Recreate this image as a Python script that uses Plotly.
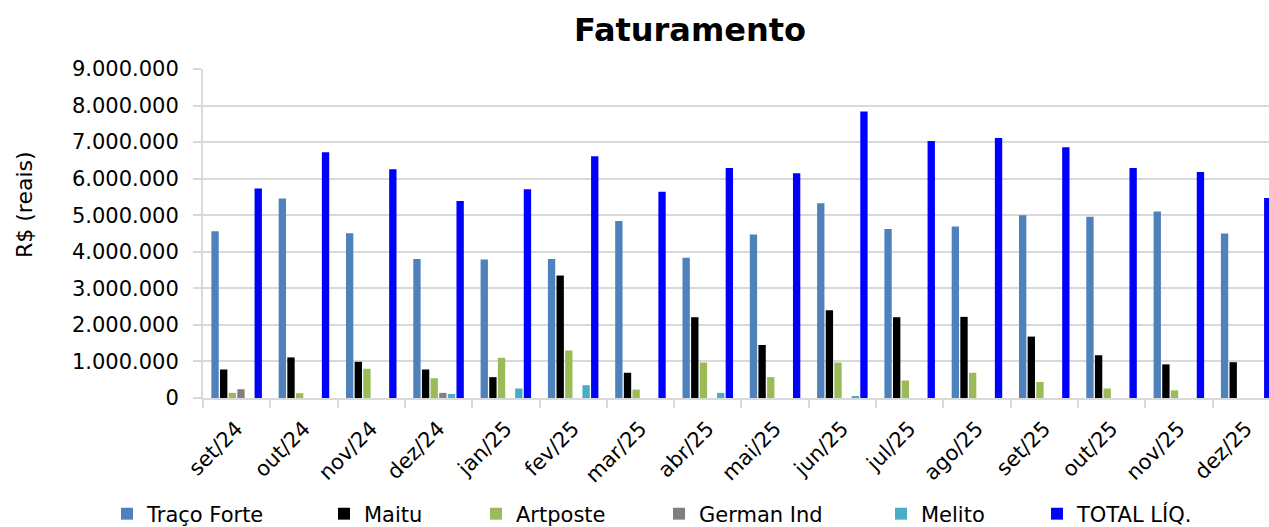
import plotly.graph_objects as go

months = ["set/24", "out/24", "nov/24", "dez/24", "jan/25", "fev/25", "mar/25", "abr/25",
          "mai/25", "jun/25", "jul/25", "ago/25", "set/25", "out/25", "nov/25", "dez/25"]

traco_forte = [4560000, 5460000, 4510000, 3800000, 3790000, 3800000, 4840000, 3840000,
               4470000, 5330000, 4620000, 4690000, 5000000, 4960000, 5100000, 4500000]
maitu = [780000, 1110000, 990000, 780000, 570000, 3350000, 690000, 2210000,
         1450000, 2400000, 2210000, 2220000, 1680000, 1170000, 920000, 980000]
artposte = [140000, 130000, 800000, 540000, 1100000, 1300000, 230000, 970000,
            570000, 970000, 480000, 690000, 440000, 260000, 210000, 0]
german_ind = [240000, 0, 0, 140000, 0, 0, 0, 0, 0, 0, 0, 0, 0, 0, 0, 0]
melito = [0, 0, 0, 110000, 260000, 350000, 0, 140000, 0, 50000, 0, 0, 0, 0, 0, 0]
total_liq = [5730000, 6720000, 6260000, 5390000, 5710000, 6610000, 5640000, 6290000,
             6150000, 7840000, 7030000, 7110000, 6860000, 6290000, 6180000, 5470000]

series = [
    ("Traço Forte", traco_forte, "#4F81BD"),
    ("Maitu", maitu, "#000000"),
    ("Artposte", artposte, "#9BBB59"),
    ("German Ind", german_ind, "#808080"),
    ("Melito", melito, "#4BACC6"),
    ("TOTAL LÍQ.", total_liq, "#0000FF"),
]

W, H = 1269, 527
L, T, B = 203, 69, 129
plot_w = W - L
plot_h = H - T - B
cat_w = 67.3

FONT = "DejaVu Sans"
fig = go.Figure()

legend_text_x = [143, 360, 512, 695, 917, 1073]
layout_legends = {}
for i, (name, vals, col) in enumerate(series):
    lid = "legend" if i == 0 else f"legend{i+1}"
    fig.add_trace(go.Bar(x=months, y=vals, name=name, marker_color=col,
                         legend=lid))
    layout_legends[lid] = dict(
        x=(legend_text_x[i] - 36 - L) / plot_w, xanchor="left",
        y=(H - B - 514) / plot_h, yanchor="middle",
        orientation="h", font=dict(family=FONT, size=21, color="#000"),
        bgcolor="rgba(0,0,0,0)", borderwidth=0,
    )

fig.update_layout(
    width=W, height=H,
    template="none",
    paper_bgcolor="white", plot_bgcolor="white",
    margin=dict(l=L, r=0, t=T, b=B, autoexpand=False),
    separators=",.",
    barmode="group", bargap=0.23, bargroupgap=0.15,
    font=dict(family=FONT, size=21, color="#000"),
    title=dict(text="<b>Faturamento</b>", x=690 / W, xref="container", xanchor="center",
               y=1 - 30 / H, yref="container", yanchor="middle",
               font=dict(family=FONT, size=32, color="#000")),
    showlegend=True,
    **layout_legends,
)

fig.update_xaxes(
    type="category",
    range=[-0.5, (W - L) / cat_w - 0.5],
    showgrid=False, showline=True, linecolor="#D9D9D9", linewidth=2,
    tickson="boundaries", ticks="outside", ticklen=8, tickcolor="#D9D9D9", tickwidth=2,
    tickangle=-45, tickfont=dict(family=FONT, size=21, color="#000"),
    ticklabelstandoff=8,
    zeroline=False,
)
fig.update_yaxes(
    range=[0, 9000000], dtick=1000000, tickformat=",.0f",
    showgrid=True, gridcolor="#D9D9D9", gridwidth=2,
    showline=True, linecolor="#D9D9D9", linewidth=2,
    ticks="outside", ticklen=8, tickcolor="#D9D9D9", tickwidth=2,
    tickfont=dict(family=FONT, size=21, color="#000"),
    ticklabelstandoff=10,
    zeroline=False,
)

fig.add_annotation(
    text="R$ (reais)", textangle=-90, showarrow=False,
    xref="paper", yref="paper",
    x=(25 - L) / plot_w, xanchor="center",
    y=(H - B - 205) / plot_h, yanchor="middle",
    font=dict(family=FONT, size=22, color="#000"),
)

fig.write_html("out.html", config={"displayModeBar": False},
               post_script="document.body.style.margin='0';document.body.style.overflow='hidden';")
